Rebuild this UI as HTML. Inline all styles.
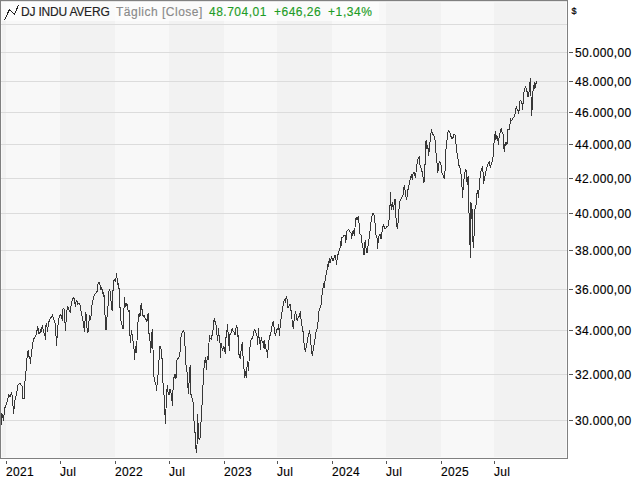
<!DOCTYPE html>
<html><head><meta charset="utf-8"><style>
html,body{margin:0;padding:0;background:#fff;width:640px;height:480px;overflow:hidden}
body{position:relative;font-family:"Liberation Sans",sans-serif;font-size:12px}
svg{position:absolute;left:0;top:0}
.yl{position:absolute;left:575px;color:#000;line-height:16px;white-space:nowrap;letter-spacing:0.35px;-webkit-text-stroke:0.15px #000}
.xl{position:absolute;top:464px;color:#000;line-height:16px;white-space:nowrap;letter-spacing:0.3px;-webkit-text-stroke:0.15px #000}
.hd{position:absolute;top:4px;line-height:16px;white-space:nowrap;-webkit-text-stroke:0.15px currentColor}
</style></head><body>
<svg width="640" height="480" shape-rendering="crispEdges"><rect x="1" y="1" width="5" height="457" fill="#f2f2f2"/><rect x="6" y="1" width="54" height="457" fill="#f8f8f8"/><rect x="60" y="1" width="55" height="457" fill="#f2f2f2"/><rect x="115" y="1" width="54" height="457" fill="#f8f8f8"/><rect x="169" y="1" width="55" height="457" fill="#f2f2f2"/><rect x="224" y="1" width="53" height="457" fill="#f8f8f8"/><rect x="277" y="1" width="55" height="457" fill="#f2f2f2"/><rect x="332" y="1" width="54" height="457" fill="#f8f8f8"/><rect x="386" y="1" width="55" height="457" fill="#f2f2f2"/><rect x="441" y="1" width="53" height="457" fill="#f8f8f8"/><rect x="494" y="1" width="73" height="457" fill="#f2f2f2"/><rect x="1" y="1" width="378" height="20" fill="#fff" fill-opacity="0.6"/><rect x="6" y="461" width="1" height="3" fill="#555"/><rect x="60" y="461" width="1" height="3" fill="#555"/><rect x="115" y="461" width="1" height="3" fill="#555"/><rect x="169" y="461" width="1" height="3" fill="#555"/><rect x="224" y="461" width="1" height="3" fill="#555"/><rect x="277" y="461" width="1" height="3" fill="#555"/><rect x="332" y="461" width="1" height="3" fill="#555"/><rect x="386" y="461" width="1" height="3" fill="#555"/><rect x="441" y="461" width="1" height="3" fill="#555"/><rect x="494" y="461" width="1" height="3" fill="#555"/><rect x="1" y="1" width="1" height="457" fill="#f9f9f9"/><rect x="566" y="1" width="1" height="457" fill="#f9f9f9"/><rect x="1" y="457" width="566" height="1" fill="#f9f9f9"/><rect x="1" y="1" width="566" height="1" fill="#e6e6e6"/><rect x="1" y="2" width="566" height="1" fill="#fff" fill-opacity="0.3"/><rect x="1" y="24" width="566" height="1" fill="#dcdcdc"/><rect x="1" y="52" width="566" height="1" fill="#dcdcdc"/><rect x="569" y="52" width="4" height="1" fill="#555"/><rect x="1" y="81" width="566" height="1" fill="#dcdcdc"/><rect x="569" y="81" width="4" height="1" fill="#555"/><rect x="1" y="112" width="566" height="1" fill="#dcdcdc"/><rect x="569" y="112" width="4" height="1" fill="#555"/><rect x="1" y="144" width="566" height="1" fill="#dcdcdc"/><rect x="569" y="144" width="4" height="1" fill="#555"/><rect x="1" y="178" width="566" height="1" fill="#dcdcdc"/><rect x="569" y="178" width="4" height="1" fill="#555"/><rect x="1" y="213" width="566" height="1" fill="#dcdcdc"/><rect x="569" y="213" width="4" height="1" fill="#555"/><rect x="1" y="250" width="566" height="1" fill="#dcdcdc"/><rect x="569" y="250" width="4" height="1" fill="#555"/><rect x="1" y="289" width="566" height="1" fill="#dcdcdc"/><rect x="569" y="289" width="4" height="1" fill="#555"/><rect x="1" y="330" width="566" height="1" fill="#dcdcdc"/><rect x="569" y="330" width="4" height="1" fill="#555"/><rect x="1" y="374" width="566" height="1" fill="#dcdcdc"/><rect x="569" y="374" width="4" height="1" fill="#555"/><rect x="1" y="420" width="566" height="1" fill="#dcdcdc"/><rect x="569" y="420" width="4" height="1" fill="#555"/><rect x="0" y="0" width="568" height="1" fill="#808080"/><rect x="0" y="0" width="1" height="459" fill="#808080"/><rect x="567" y="0" width="1" height="459" fill="#808080"/><rect x="0" y="458" width="568" height="1" fill="#808080"/><polyline points="4.5,19.9 9.5,9.5 14.5,14.5 18.5,5.1" fill="none" stroke="#222" stroke-width="1" shape-rendering="crispEdges"/><polyline points="1.5,424.5 1.5,413.0 2.5,415.5 3.5,420.5 4.5,410.5 5.2,406.5 6.5,403.5 7.5,400.5 8.8,394.4 10.0,396.9 11.5,392.5 12.5,397.5 13.5,413.8 15.0,400.0 16.9,392.5 17.5,386.2 19.4,383.1 22.5,386.2 22.9,398.8 24.4,398.8 25.0,381.2 25.6,371.9 26.4,369.4 26.8,360.0 27.6,351.2 28.5,350.6 29.2,358.8 29.8,356.2 30.5,364.4 31.4,351.2 32.2,348.1 33.2,340.0 34.9,337.0 36.1,335.1 36.8,332.0 37.4,326.4 38.1,332.0 38.5,328.0 39.0,334.0 39.9,333.9 40.2,329.0 40.5,332.5 41.4,330.8 42.4,325.1 43.0,328.9 43.6,330.8 44.2,333.9 44.9,335.8 45.5,339.5 45.8,327.0 46.4,322.6 47.1,327.6 47.7,332.0 48.3,323.2 49.6,320.1 50.5,318.2 51.8,316.4 52.7,314.5 53.3,318.9 54.2,320.1 55.5,325.1 56.1,337.6 56.6,345.6 57.4,330.8 58.6,320.1 59.2,316.4 60.5,314.5 61.8,317.0 62.4,321.4 62.5,310.0 63.2,308.8 64.5,309.4 64.9,320.8 65.4,331.2 66.1,320.8 66.8,311.2 67.5,306.2 68.5,308.1 69.5,311.2 70.4,313.1 71.2,304.4 72.2,300.0 73.5,296.9 74.5,300.0 75.4,306.9 76.2,300.6 77.2,301.2 77.9,304.4 79.1,303.1 80.4,306.2 81.6,315.0 82.5,317.5 83.5,323.8 84.5,331.9 85.4,312.5 86.2,315.0 87.0,327.5 87.9,333.1 88.8,322.5 89.8,315.0 90.8,320.0 91.6,306.2 92.8,302.2 93.4,297.2 94.6,294.8 95.9,292.9 97.1,291.6 97.4,285.4 98.4,283.5 99.3,282.2 99.9,284.8 100.6,287.2 100.9,290.4 101.5,287.2 102.1,289.8 102.8,294.1 103.4,292.2 104.0,297.2 104.6,294.8 105.0,315.0 106.0,330.0 107.0,317.5 107.9,306.0 108.4,306.0 108.7,292.2 109.3,289.4 109.9,290.4 110.6,294.8 110.9,301.0 111.5,301.6 112.1,311.0 112.4,291.6 113.1,290.4 113.4,281.0 114.6,279.1 115.2,281.6 115.9,278.5 116.6,273.1 117.1,278.5 117.8,279.8 118.1,287.2 118.8,283.5 119.0,288.5 119.6,290.4 119.9,303.5 120.3,318.0 122.5,326.8 123.1,329.0 123.8,314.2 124.4,297.0 124.7,301.8 125.3,307.4 125.9,303.0 126.6,305.5 127.5,304.2 127.8,309.2 128.4,311.8 129.1,309.9 129.4,311.8 129.6,330.0 130.5,342.5 131.4,330.0 132.2,335.0 133.2,342.5 134.2,350.0 134.5,360.0 135.5,346.2 136.4,352.5 137.0,341.2 137.6,322.5 138.1,321.8 138.8,314.2 139.7,313.0 140.0,316.8 140.6,307.4 141.6,303.0 141.9,309.2 142.5,310.5 143.1,316.8 144.1,314.9 145.0,318.0 146.2,319.9 146.9,321.8 147.5,316.1 148.4,313.0 148.6,333.8 149.5,333.8 150.8,352.5 151.8,332.5 152.6,329.4 153.5,373.8 154.8,381.2 156.0,385.0 156.5,391.2 157.5,380.0 158.5,370.0 159.4,352.5 160.0,346.2 161.0,348.8 161.5,357.5 162.2,358.8 162.8,380.0 163.8,392.5 164.5,402.5 165.4,423.8 166.0,408.8 167.2,385.0 168.1,392.5 169.0,395.0 170.0,388.8 171.0,392.5 172.5,405.6 173.1,387.5 174.0,377.5 175.0,373.8 176.0,378.8 176.9,360.0 177.8,358.8 179.0,356.9 180.2,351.2 181.2,333.8 182.2,332.5 183.5,330.0 184.4,333.8 185.0,346.2 185.6,353.8 186.2,370.0 187.2,372.5 187.8,385.0 188.5,393.8 189.4,375.0 190.2,365.0 190.6,393.8 191.5,395.0 192.5,400.0 193.5,404.0 194.1,423.8 195.4,436.2 196.2,452.5 197.0,445.0 197.5,413.8 198.2,426.2 199.1,440.0 200.0,438.8 200.8,422.5 201.6,420.0 202.0,405.0 202.5,398.8 203.5,372.5 204.8,361.0 205.6,357.5 206.5,370.0 207.2,356.0 208.0,360.0 208.5,348.8 209.6,335.4 210.2,339.1 210.9,337.9 211.5,340.4 211.8,336.0 212.4,334.8 212.8,330.4 213.4,329.1 213.7,321.0 214.3,318.5 214.9,321.0 215.6,324.1 216.2,325.4 216.8,331.6 217.4,341.0 218.1,334.8 218.7,328.5 219.0,335.4 219.6,336.6 220.2,346.0 220.5,357.5 221.2,343.5 221.6,345.0 222.5,351.2 223.5,346.2 224.5,348.8 225.2,353.8 225.6,338.5 226.2,337.2 226.8,332.9 227.4,324.1 227.8,331.6 228.4,332.2 228.7,341.0 229.3,351.0 229.9,334.8 230.9,333.5 231.5,330.4 232.4,328.5 233.0,331.0 234.0,332.2 234.6,334.1 235.2,334.8 235.6,329.8 236.5,325.4 237.4,327.9 237.8,337.2 238.4,334.8 238.8,353.8 240.4,359.4 241.2,348.8 242.2,342.5 242.9,355.0 243.8,365.0 244.5,378.1 245.4,371.2 246.2,377.5 247.5,361.2 248.5,371.2 249.5,352.5 250.3,344.2 251.2,339.2 252.5,338.0 253.4,334.2 254.4,329.2 255.3,331.1 255.9,333.0 256.6,333.6 256.9,334.9 257.8,344.9 258.2,328.1 258.8,334.0 259.4,343.6 260.0,343.6 260.3,349.9 260.9,340.5 261.6,337.4 262.2,342.4 263.1,341.1 264.1,348.6 264.4,340.5 265.0,343.6 265.6,348.6 266.9,349.9 267.4,358.0 268.4,345.5 269.4,336.1 270.6,334.9 271.2,331.1 272.0,326.2 273.2,321.2 274.1,327.5 275.4,336.2 276.6,330.0 277.9,328.8 278.5,323.8 279.5,336.2 280.4,322.5 281.6,315.0 282.5,308.8 283.5,302.5 284.5,299.4 285.4,302.5 286.2,296.2 287.2,300.0 287.9,307.5 289.1,306.2 290.4,303.8 291.2,312.5 292.2,321.2 293.2,328.8 294.1,320.0 295.4,311.2 296.2,315.0 297.2,321.2 298.2,317.5 299.5,316.2 300.4,311.2 301.2,321.2 302.5,328.8 303.2,332.5 304.1,343.8 305.4,351.9 306.6,345.0 307.9,337.5 308.8,335.0 309.5,330.0 310.4,337.5 311.2,347.5 312.2,356.2 313.2,350.0 314.5,342.5 315.8,332.5 317.0,328.8 317.9,323.8 318.8,311.2 320.4,306.9 321.6,302.5 322.1,293.8 323.4,286.2 323.9,283.0 324.4,288.0 324.6,283.0 326.0,275.0 327.5,267.0 328.5,261.0 328.6,267.0 329.5,258.5 330.5,263.0 331.5,256.0 332.5,260.0 333.5,261.0 334.5,256.0 335.5,255.0 336.5,264.5 337.5,256.0 338.5,253.0 340.0,248.0 340.6,241.5 341.0,246.2 341.6,238.1 342.9,236.9 344.1,235.6 345.0,235.0 345.8,242.5 346.6,231.9 347.9,230.0 348.8,229.4 349.8,231.9 351.0,233.1 351.6,239.4 352.5,232.5 353.5,230.6 354.5,236.2 355.4,221.2 356.2,217.5 357.2,220.0 358.2,216.2 359.1,223.8 360.0,233.8 361.0,235.0 361.6,241.2 362.9,247.5 364.1,255.0 365.2,240.0 366.2,250.0 367.2,253.1 368.5,242.5 369.8,232.5 371.0,222.5 372.2,215.0 373.2,213.1 374.1,215.0 375.0,222.5 376.0,235.0 377.0,237.5 377.5,248.8 378.6,236.7 380.2,234.2 381.1,239.2 381.9,232.5 383.3,224.6 384.4,227.5 385.5,229.2 386.5,226.7 388.2,225.8 389.0,220.0 389.8,212.5 390.4,192.5 391.2,210.0 392.2,202.5 393.5,210.0 394.5,200.0 395.4,198.8 396.0,217.5 397.2,228.8 398.2,221.2 399.1,207.5 400.0,201.2 401.6,197.5 402.9,196.2 403.5,190.0 404.5,185.0 405.4,193.8 406.6,200.0 407.9,190.0 409.1,185.0 410.0,180.0 410.7,177.0 411.6,173.9 412.2,179.5 413.2,172.6 414.1,172.0 414.8,175.1 415.4,178.2 416.0,172.6 416.6,167.0 417.6,159.5 418.5,157.6 419.4,156.4 419.8,164.5 420.7,166.4 421.3,169.5 422.2,172.0 422.6,177.0 423.5,177.0 424.0,183.0 424.4,165.1 425.4,164.5 425.7,145.0 426.1,140.0 427.0,148.8 427.8,145.0 428.6,156.2 429.5,147.5 430.5,136.2 431.5,129.4 432.4,133.8 433.6,135.0 434.9,138.8 435.8,151.2 436.8,160.0 437.8,172.5 438.6,165.0 439.5,161.2 440.8,163.8 441.9,172.5 443.5,176.2 444.4,178.8 445.2,168.8 445.8,151.2 446.8,142.5 447.8,132.5 448.6,130.6 449.5,131.2 450.5,135.0 451.8,138.8 453.0,137.5 454.0,133.8 454.9,134.4 455.8,142.5 456.8,151.2 458.0,158.8 458.8,165.0 460.0,167.5 461.0,173.8 461.9,185.0 462.5,197.5 463.1,188.8 464.0,178.8 464.9,172.5 465.6,168.8 466.5,172.5 467.2,185.0 468.1,176.2 468.5,185.0 468.5,212.5 469.5,213.5 470.2,257.5 470.6,202.3 471.3,219.0 471.7,203.5 472.3,215.0 472.7,236.0 473.3,247.5 474.5,228.0 474.8,220.0 475.0,209.0 475.5,205.5 476.5,204.5 476.6,196.0 477.5,190.0 478.5,197.5 479.4,185.0 480.2,176.2 481.0,171.2 481.9,168.8 482.8,166.2 483.5,183.8 484.4,178.8 485.2,175.0 486.5,168.8 487.8,165.0 489.2,161.2 490.2,167.5 491.5,163.8 492.8,160.0 493.8,145.2 494.4,139.0 495.4,131.5 496.0,139.6 496.6,135.2 497.6,138.4 498.5,144.6 499.1,136.5 499.8,134.0 500.4,130.2 501.3,128.4 502.2,133.4 503.2,134.0 503.5,144.6 504.4,151.5 504.8,145.2 505.5,142.1 506.0,145.5 506.5,142.1 506.9,145.2 507.2,140.9 507.6,129.6 509.8,129.0 509.9,125.0 510.5,118.0 511.2,121.0 512.5,119.0 514.0,117.0 514.8,115.5 515.5,111.5 516.2,106.5 517.0,109.0 517.8,110.0 518.5,113.5 519.2,109.5 519.2,103.5 520.5,100.0 521.5,102.0 522.2,104.0 522.5,109.5 523.0,104.5 523.5,96.0 524.2,91.0 525.5,86.5 527.0,91.5 528.0,97.0 529.0,92.0 529.5,86.5 530.5,78.5 531.0,96.0 531.4,115.5 532.3,107.5 532.5,95.0 533.5,87.0 534.5,82.5 534.8,88.5 536.5,81.5" fill="none" stroke="#383838" stroke-width="1" stroke-linejoin="bevel" shape-rendering="crispEdges"/></svg>
<div class="hd" style="left:21px;color:#222;letter-spacing:-0.2px">DJ INDU AVERG</div>
<div class="hd" style="left:116px;color:#8a8a8a;letter-spacing:0.5px">Täglich [Close]</div>
<div class="hd" style="left:209px;color:#1e9c26;letter-spacing:0.5px">48.704,01</div>
<div class="hd" style="left:274px;color:#1e9c26;letter-spacing:0.5px">+646,26</div>
<div class="hd" style="left:328px;color:#1e9c26;letter-spacing:0.6px">+1,34%</div>
<div style="position:absolute;left:571.5px;top:2.5px;font-size:9px;line-height:16px;color:#000;-webkit-text-stroke:0.2px #000">$</div>
<div class="yl" style="top:45px">50.000,00</div><div class="yl" style="top:74px">48.000,00</div><div class="yl" style="top:105px">46.000,00</div><div class="yl" style="top:137px">44.000,00</div><div class="yl" style="top:171px">42.000,00</div><div class="yl" style="top:206px">40.000,00</div><div class="yl" style="top:243px">38.000,00</div><div class="yl" style="top:282px">36.000,00</div><div class="yl" style="top:323px">34.000,00</div><div class="yl" style="top:367px">32.000,00</div><div class="yl" style="top:413px">30.000,00</div><div class="xl" style="left:6px">2021</div><div class="xl" style="left:60px">Jul</div><div class="xl" style="left:115px">2022</div><div class="xl" style="left:169px">Jul</div><div class="xl" style="left:224px">2023</div><div class="xl" style="left:277px">Jul</div><div class="xl" style="left:332px">2024</div><div class="xl" style="left:386px">Jul</div><div class="xl" style="left:441px">2025</div><div class="xl" style="left:494px">Jul</div>
</body></html>
